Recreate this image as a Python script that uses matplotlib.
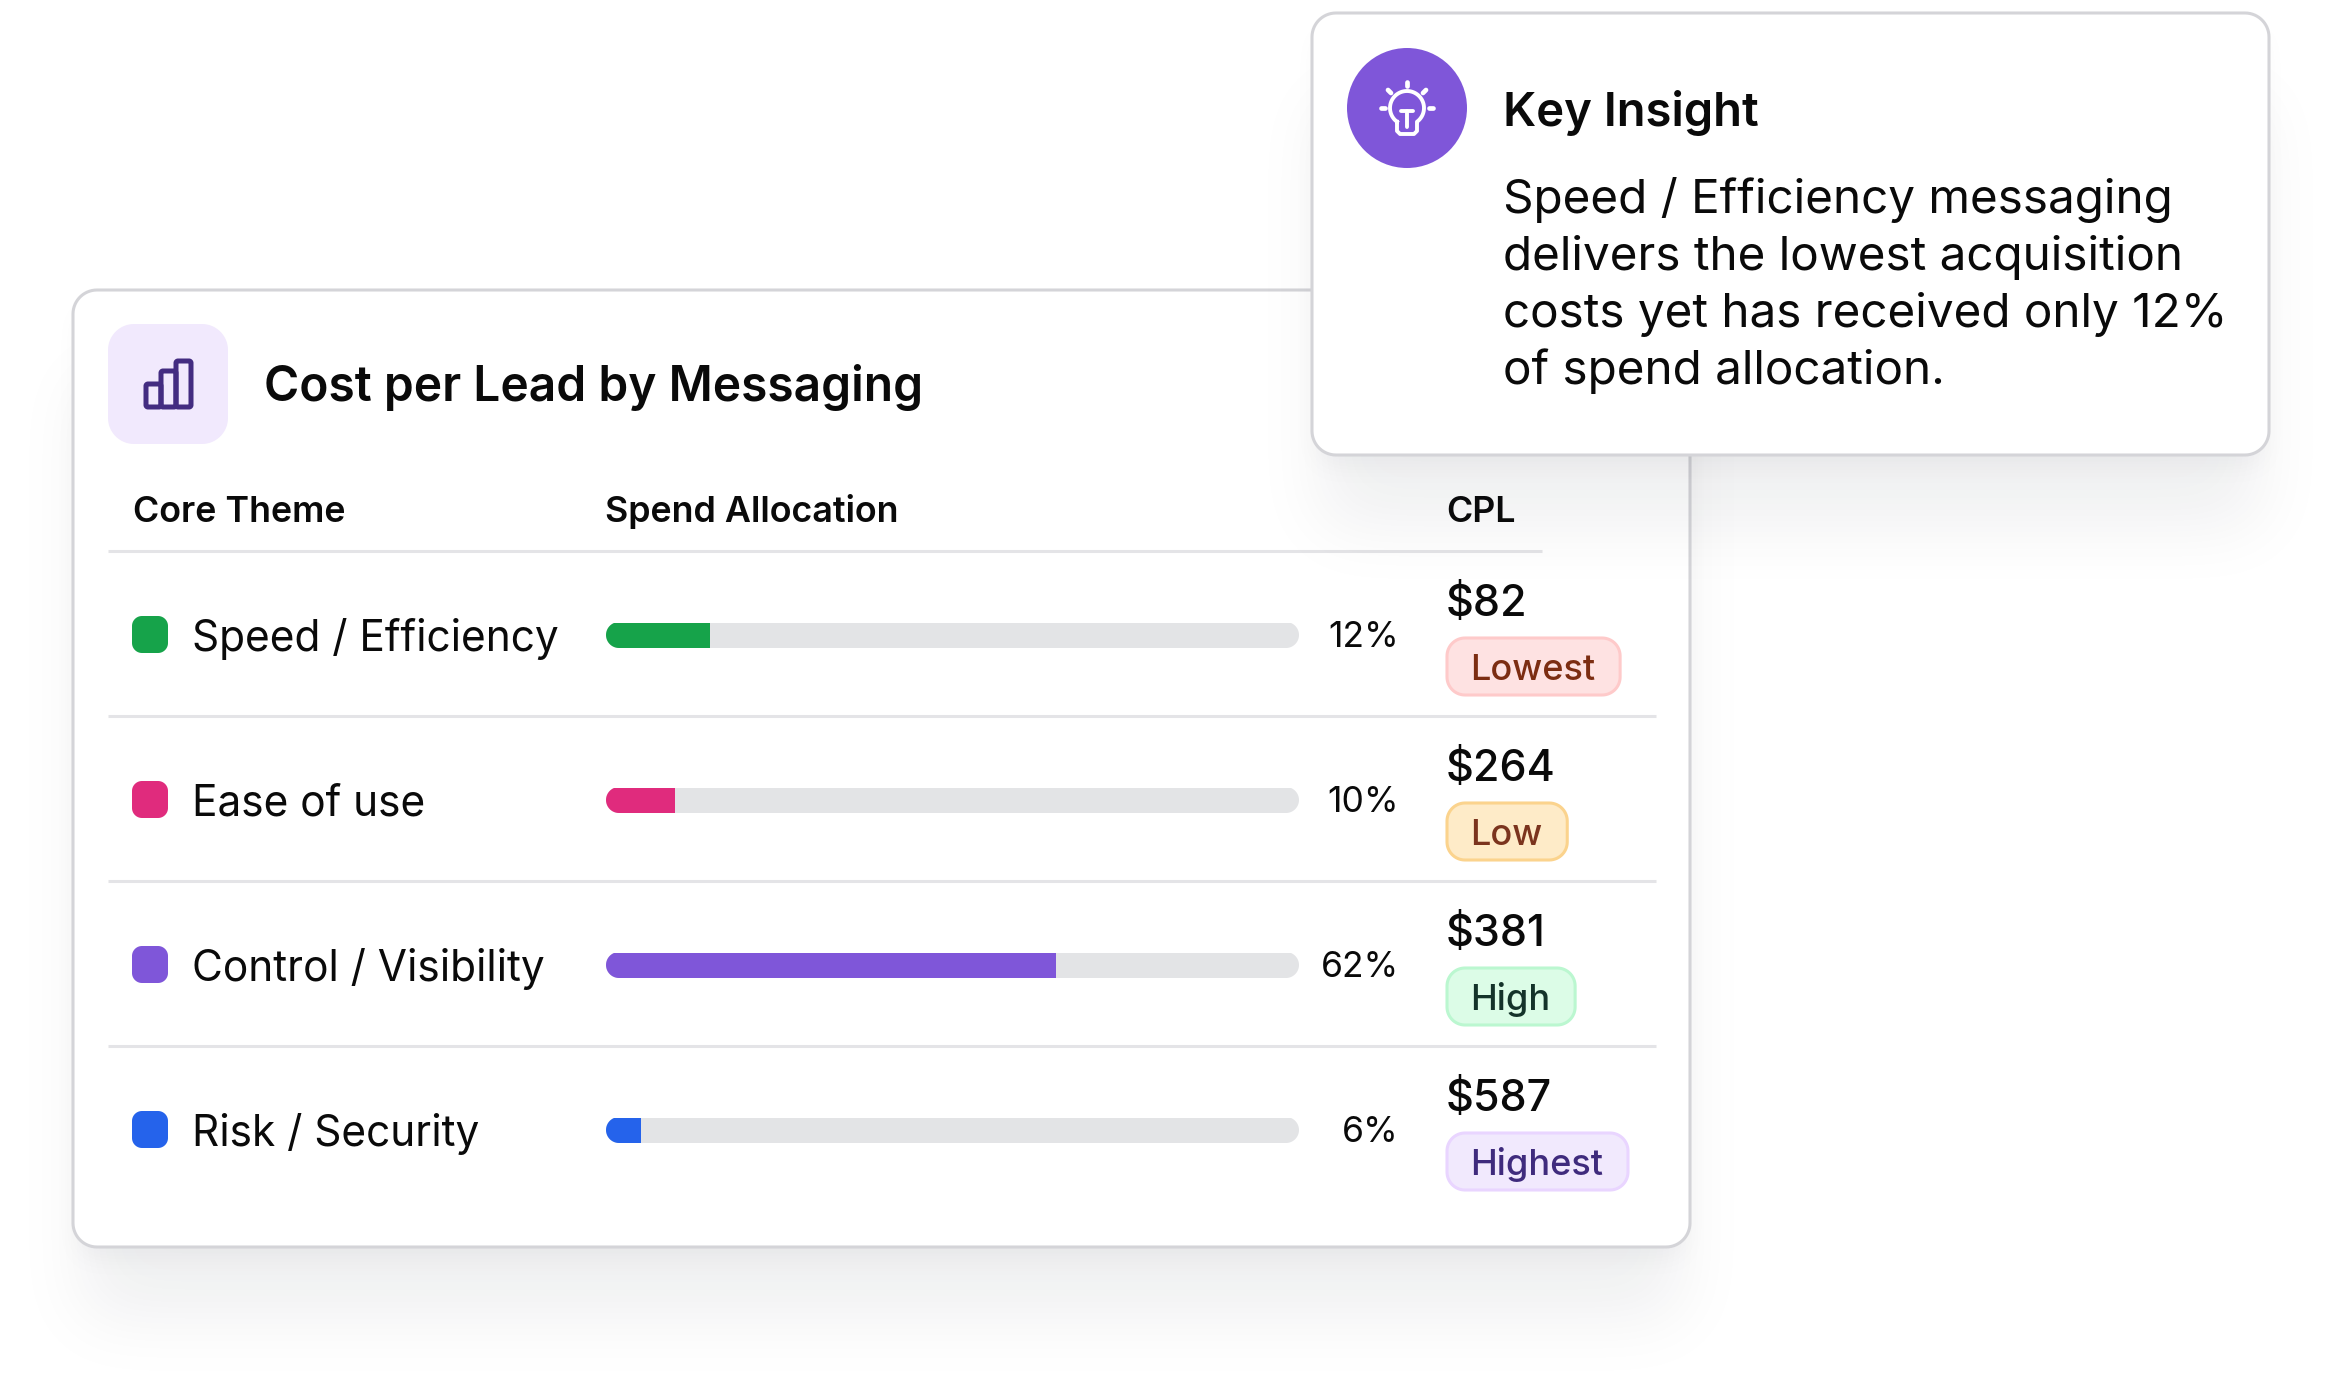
import numpy as np
import matplotlib
matplotlib.use('Agg')
import matplotlib.pyplot as plt
from matplotlib.patches import PathPatch, Circle
from matplotlib.path import Path

plt.rcParams['font.family'] = ['Inter', 'DejaVu Sans']

# chart values
themes = ['Speed / Efficiency', 'Ease of use', 'Control / Visibility', 'Risk / Security']
theme_colors = ['#16A34A', '#E02B7D', '#7F56D9', '#2563EB']
spend_labels = ['12%', '10%', '62%', '6%']
fill_widths = [15, 10, 65, 5]  # filled share of the track as drawn
cpl_labels = ['$82', '$264', '$381', '$587']
badge_labels = ['Lowest', 'Low', 'High', 'Highest']
badge_fills = ['#FEE2E2', '#FEEBC8', '#DCFCE7', '#F1E9FD']
badge_edges = ['#FECACA', '#FBD38D', '#BBF7D0', '#E9D5FF']
badge_texts = ['#7C2D12', '#7B341E', '#14332A', '#3F2B7D']
insight_lines = ['Speed / Efficiency messaging', 'delivers the lowest acquisition',
                 'costs yet has received only 12%', 'of spend allocation.']

W, H = 2343, 1380
ROW_0 = 635
ROW_STEP = 165
INK = '#0A0A0A'
BORDER = '#D4D4D8'
LINE = '#E4E4E7'
PURPLE = '#7F56D9'
DARK_PURPLE = '#432C81'

fig = plt.figure(figsize=(W / 100, H / 100), dpi=100, facecolor='white')
ax = fig.add_axes([0, 0, 1, 1])
ax.axis('off')


def round_path(x0, y0, x1, y1, r):
    # true circular corners, FancyBboxPatch corners come out too square
    pts = []
    for cx, cy, start in [(x1 - r, y0 + r, -90), (x1 - r, y1 - r, 0),
                          (x0 + r, y1 - r, 90), (x0 + r, y0 + r, 180)]:
        a = np.radians(np.linspace(start, start + 90, 16))
        pts.append(np.column_stack([cx + r * np.cos(a), cy + r * np.sin(a)]))
    pts = np.vstack(pts + [pts[0][:1]])
    return Path(pts, closed=True)


def rounded(x0, y0, x1, y1, r, **kw):
    box = PathPatch(round_path(x0, y0, x1, y1, r), **kw)
    ax.add_patch(box)
    return box


def blur_profile(start, stop, n, sigma):
    # soft edge for the drop shadows
    line = np.zeros(n)
    line[max(int(start), 0):min(int(stop), n)] = 1
    t = np.arange(-3 * sigma, 3 * sigma + 1)
    kernel = np.exp(-t ** 2 / (2 * sigma ** 2))
    kernel /= kernel.sum()
    pad = len(t)
    padded = np.pad(line, pad, mode='edge')
    return np.convolve(padded, kernel, mode='same')[pad:-pad]


def shadow(x0, y0, x1, y1, dy, spread, sigma, alpha, z):
    xs = blur_profile(x0 + spread, x1 - spread, W, sigma)
    ys = blur_profile(y0 + dy + spread, y1 + dy - spread, H, sigma)
    rgba = np.zeros((H, W, 4))
    rgba[..., :3] = (0.07, 0.09, 0.15)
    rgba[..., 3] = alpha * np.outer(ys, xs)
    ax.imshow(rgba, extent=(0, W, H, 0), zorder=z, interpolation='nearest', aspect='auto')


# main card
card = (73, 290, 1690, 1247)
insight = (1312, 13, 2269, 455)
shadow(*card, 80, 10, 35, 0.065, 0.5)
shadow(*card, 16, 8, 14, 0.05, 0.6)
rounded(*card, 24, fc='white', ec=BORDER, lw=2.2, zorder=1)

# header icon
rounded(108, 324, 228, 444, 26, fc='#F1E9FD', ec='none', zorder=2)
for x0, top in zip([146, 161, 176], [384, 371, 361]):
    rounded(x0, top, x0 + 15, 407, 2, fc='none', ec=DARK_PURPLE, lw=3.6, zorder=3)

ax.text(264, 401, 'Cost per Lead by Messaging', fontsize=34.5, fontweight='semibold', color=INK, zorder=4)

for x, label in zip([133, 605, 1446], ['Core Theme', 'Spend Allocation', 'CPL']):
    ax.text(x, 522, label, fontsize=25.8, fontweight='semibold', color=INK, zorder=4)
ax.plot([108, 1542], [551, 551], color=LINE, lw=2.2, solid_capstyle='butt', zorder=2)

renderer = fig.canvas.get_renderer()
for i, theme in enumerate(themes):
    y = ROW_0 + i * ROW_STEP
    rounded(132, y - 19, 168, y + 18, 10, fc=theme_colors[i], ec='none', zorder=3)
    ax.text(192, y + 16, theme, fontsize=30.5, color=INK, zorder=4)
    ax.text(1399, y + 12, spend_labels[i], fontsize=25.5, color=INK, ha='right', zorder=4)
    ax.text(1446, y - 19, cpl_labels[i], fontsize=31, fontweight='medium', color=INK, zorder=4)
    label = ax.text(1470, y + 45, badge_labels[i], fontsize=26, fontweight='medium',
                    color=badge_texts[i], zorder=4)
    text_w = label.get_window_extent(renderer).width
    rounded(1447, y + 3, 1470 + text_w + 25, y + 60, 18, fc=badge_fills[i], ec=badge_edges[i],
            lw=2.2, zorder=3)
    if i < len(themes) - 1:
        line_y = y + 81
        ax.plot([108, 1656], [line_y, line_y], color=LINE, lw=2.2, solid_capstyle='butt', zorder=2)

# insight card above the main one, its shadow falls on it
shadow(*insight, 80, 10, 35, 0.065, 5)
shadow(*insight, 16, 8, 14, 0.05, 5.5)
rounded(*insight, 24, fc='white', ec=BORDER, lw=2.2, zorder=6)
ax.add_patch(Circle((1407, 108), 60, fc=PURPLE, ec='none', zorder=7))

# light bulb
a = np.radians(np.linspace(234, -54, 60))
bx = list(1407 + 17 * np.cos(a))
by = list(108 - 17 * np.sin(a))
outline_x = bx + [1417, 1417, 1414, 1400, 1397, 1397, bx[0]]
outline_y = by + [122, 131, 134, 134, 131, 122, by[0]]
ax.plot(outline_x, outline_y, color='white', lw=2.8, solid_joinstyle='round', zorder=8)
ax.plot([1401, 1413], [111, 111], color='white', lw=2.8, solid_capstyle='round', zorder=8)
ax.plot([1407, 1407], [111, 127], color='white', lw=2.8, solid_capstyle='round', zorder=8)
for x0, y0, x1, y1 in [(1407, 82, 1407, 86), (1388, 90, 1391, 93), (1426, 90, 1423, 93),
                       (1381, 108, 1385, 108), (1429, 108, 1433, 108)]:
    ax.plot([x0, x1], [y0, y1], color='white', lw=3.4, solid_capstyle='round', zorder=8)

ax.text(1503, 126, 'Key Insight', fontsize=34, fontweight='semibold', color=INK, zorder=8)
for i, line in enumerate(insight_lines):
    ax.text(1503, 213 + i * 57, line, fontsize=34.3, color=INK, zorder=8)

ax.set_xlim(0, W)
ax.set_ylim(H, 0)

# progress bars sit on their own 0-100 axis, rows are the y scale
bar_x0, bar_x1 = 606, 1299
top = ROW_0 - ROW_STEP / 2
bottom = ROW_0 + 3.5 * ROW_STEP
bar_ax = fig.add_axes([bar_x0 / W, 1 - bottom / H, (bar_x1 - bar_x0) / W, (bottom - top) / H])
bar_ax.set_xlim(0, 100)
bar_ax.set_ylim(3.5, -0.5)
bar_ax.axis('off')
rows = np.arange(len(themes))
track = bar_ax.barh(rows, [100] * len(rows), height=25 / ROW_STEP, color='#E3E4E6')
fills = bar_ax.barh(rows, fill_widths, height=25 / ROW_STEP, color=theme_colors)
for i in rows:
    y = ROW_0 + i * ROW_STEP
    clip = PathPatch(round_path(bar_x0, y - 13, bar_x1, y + 13, 13), transform=ax.transData)
    track[i].set_clip_path(clip)
    fills[i].set_clip_path(clip)

fig.savefig('out.png', dpi=100, facecolor='white')
